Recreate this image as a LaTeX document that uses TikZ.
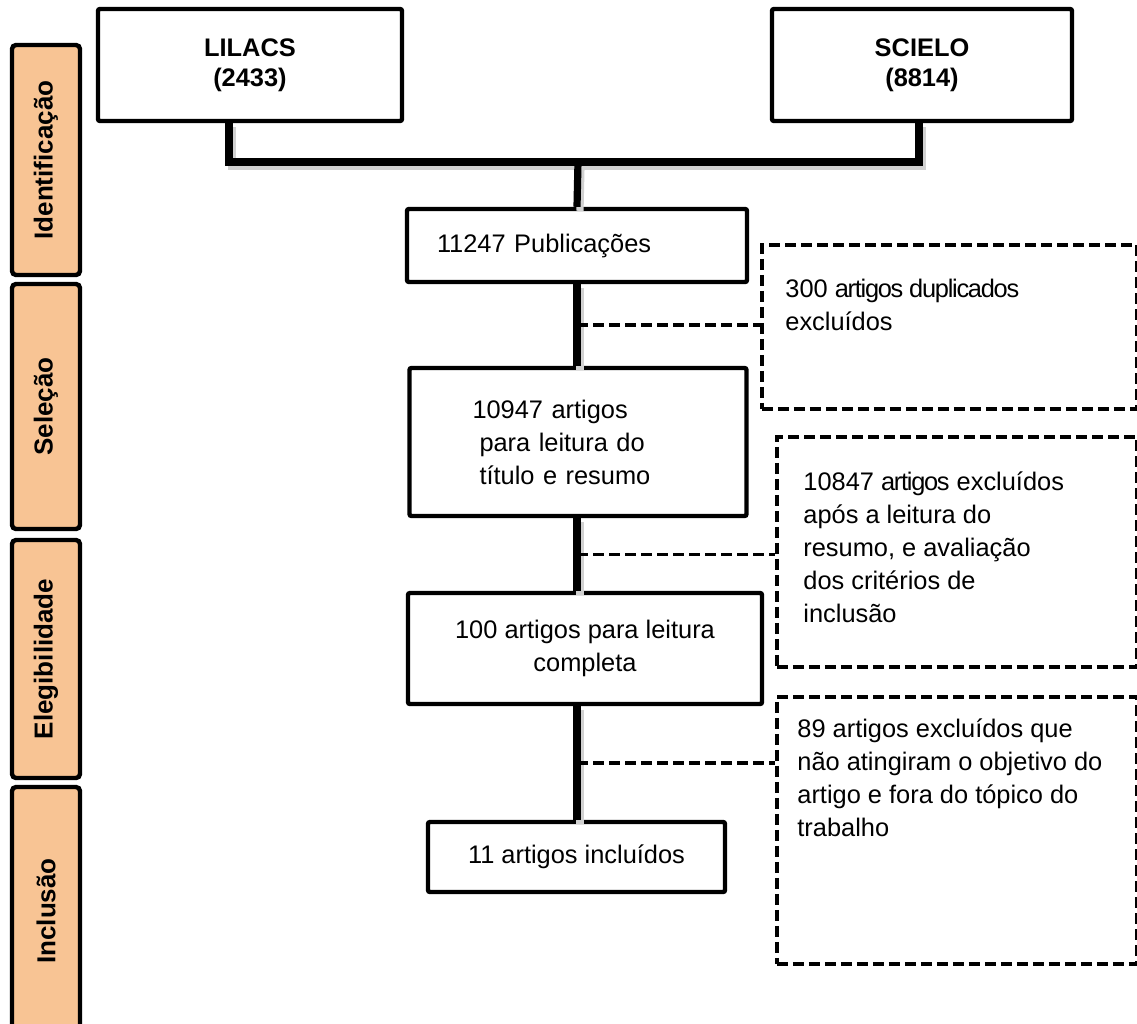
\documentclass[tikz,border=0pt]{standalone}
\usepackage{fontspec}
\setmainfont{Liberation Sans}
\usetikzlibrary{positioning,calc}
\definecolor{peach}{RGB}{248,196,148}
\newcommand{\tight}[1]{{\addfontfeatures{LetterSpace=-5}#1}}

\begin{document}
\begin{tikzpicture}[x=0.5pt,y=-0.5pt,
  every node/.style={font=\fontsize{12.7}{16.5}\selectfont},
  box/.style={draw,line width=2.2pt,rounded corners=1pt,inner sep=0pt,align=center},
  stage/.style={draw,line width=2.2pt,rounded corners=2pt,fill=peach,rotate=90,
    minimum height=34pt,inner sep=0pt,font=\fontsize{13}{16}\selectfont\bfseries},
  dbox/.style={draw,line width=1.9pt,dash pattern=on 5.5pt off 2.5pt,anchor=north west},
  dline/.style={line width=1.9pt,dash pattern=on 5.5pt off 2.5pt},
  trunk/.style={line width=3.6pt,
    preaction={draw=black!18,line width=3.6pt,transform canvas={shift={(1.5pt,-2pt)}}}},
  note/.style={anchor=north west,inner sep=0pt,align=left}]
  \useasboundingbox (0,0) rectangle (1137,1024);

  % fases
  \node[stage,minimum width=115pt] (ident) at (46,160) {Identificação};
  \node[stage,minimum width=122.5pt] (selec) at (46,406.5) {Seleção};
  \node[stage,minimum width=119pt] (elegi) at (46,659) {Elegibilidade};
  \node[stage,minimum width=124pt] (inclu) at (46,911) {Inclusão};

  % bases
  \node[box,font=\fontsize{12.7}{15}\selectfont\bfseries,minimum width=152pt,minimum height=56pt] (lilacs) at (250,65) {LILACS\\(2433)};
  \node[box,font=\fontsize{12.7}{15}\selectfont\bfseries,minimum width=150pt,minimum height=56pt] (scielo) at (922,65) {SCIELO\\(8814)};
  \coordinate (join) at (578,162);
  \draw[trunk] ([xshift=-10.5pt]lilacs.south) |- (join) -| ([xshift=-1.5pt]scielo.south);

  % fluxo
  \node[box,text width=140pt,inner xsep=15pt,align=left,minimum height=36.5pt] (pub) at (577,245.5) {11247 Publicações};
  \node[box,text width=105.5pt,inner xsep=31.5pt,align=left,minimum height=74pt] (sel) at (578,442)
    {10947 artigos\\\hspace*{3.5pt}para leitura do\\\hspace*{3.5pt}título e resumo};
  \node[box,minimum width=177pt,minimum height=55.5pt] (com) at (585,648.5) {100 artigos para leitura\\completa};
  \node[box,minimum width=148.5pt,minimum height=35pt] (inc) at (576.5,857) {11 artigos incluídos};

  \draw[trunk] (join) -- (pub.north);
  \draw[trunk] (pub.south) -- (pub.south |- sel.north);
  \draw[trunk] (pub.south |- sel.south) -- (pub.south |- com.north);
  \draw[trunk] (pub.south |- com.south) -- (pub.south |- inc.north);

  \coordinate (m1) at ($(pub.south)!0.5!(pub.south |- sel.north)$);
  \coordinate (m2) at ($(pub.south |- sel.south)!0.5!(pub.south |- com.north)$);
  \coordinate (m3) at ($(pub.south |- com.south)!0.5!(pub.south |- inc.north)$);

  % exclusoes
  \node[dbox,minimum width=187.5pt,minimum height=82pt] (dup) at (760,243) {};
  \node[note] (duptxt) at (785,279) {300 \tight{artigos duplicados}\\excluídos};
  \node[dbox,minimum width=180pt,minimum height=115pt] (exc) at (775,435) {};
  \node[note] (exctxt) at (803,471) {10847 \tight{artigos} excluídos\\após a leitura do\\resumo, e avaliação\\dos critérios de\\inclusão};
  \node[dbox,minimum width=180pt,minimum height=133.5pt] (fora) at (775,695) {};
  \node[note] (foratxt) at (797,718) {89 artigos excluídos que\\não atingiram o objetivo do\\artigo e fora do tópico do\\trabalho};

  \draw[dline] (m1) -- (m1 -| dup.west);
  \draw[dline] (m2) -- (m2 -| exc.west);
  \draw[dline] (m3) -- (m3 -| fora.west);
\end{tikzpicture}
\end{document}
